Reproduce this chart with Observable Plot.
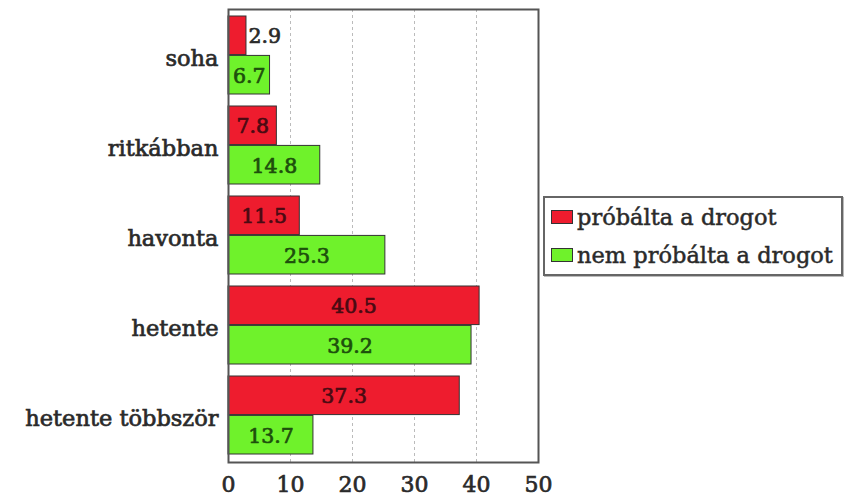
<!DOCTYPE html>
<html>
<head>
<meta charset="utf-8">
<script src="https://cdn.jsdelivr.net/npm/d3@7"></script>
<script src="https://cdn.jsdelivr.net/npm/@observablehq/plot@0.6"></script>
<style>
  html, body { margin: 0; padding: 0; background: #fff; }
  #wrap { position: relative; width: 854px; height: 500px; font-family: "DejaVu Serif", serif; }
  #wrap g[aria-label$="tick label"] { stroke: #2a2a2a; stroke-width: 0.7px; paint-order: stroke; }
  #legend { position: absolute; left: 543px; top: 196px; width: 296px; border: 2px solid #666; box-shadow: 1px 1px 0 #bbb; background: #fff; }
  .row { height: 38px; display: flex; align-items: center; padding-left: 6px; font-size: 22.5px; color: #2a2a2a; -webkit-text-stroke: 0.5px #2a2a2a; white-space: nowrap; }
  .sw { width: 20px; height: 12px; border: 1.5px solid #333; margin-right: 4px; flex: none; }
</style>
</head>
<body>
<div id="wrap"></div>
<script>
const categories = ["soha", "ritkábban", "havonta", "hetente", "hetente többször"];
const series = ["próbálta a drogot", "nem próbálta a drogot"];
const tried = [2.9, 7.8, 11.5, 40.5, 37.3];
const notTried = [6.7, 14.8, 25.3, 39.2, 13.7];
const xTicks = [0, 10, 20, 30, 40, 50];
const gridTicks = [10, 20, 30, 40];
const colors = ["#ee1c2e", "#6ff22b"];
const textColors = ["#4a0a12", "#1d4f0c"];

const data = categories.flatMap((c, i) => [
  {cat: c, series: series[0], value: tried[i]},
  {cat: c, series: series[1], value: notTried[i]}
]);

const W = 854, H = 500, mt = 9, mb = 38, ml = 228, mr = 316;
const pInner = 0.13, pOuter = 0.065;
const step = (H - mt - mb) / categories.length;
const half = step * (1 - pInner) / 2;

const redData = data.filter(d => d.series === series[0]);
const greenData = data.filter(d => d.series === series[1]);
const inside = d => d.value >= 5;
const fmt = d => d.value.toFixed(1);
const lbl = {fontSize: 20.5, strokeWidth: 0.7, paintOrder: "stroke"};

const chart = Plot.plot({
  width: W, height: H,
  marginTop: mt, marginBottom: mb, marginLeft: ml, marginRight: mr,
  style: {fontFamily: "DejaVu Serif, serif", fontSize: "20px", color: "#2a2a2a", background: "#fff"},
  x: {domain: [0, 50], label: null},
  y: {domain: categories, paddingInner: pInner, paddingOuter: pOuter, label: null},
  color: {domain: series, range: colors},
  marks: [
    Plot.ruleX(gridTicks, {stroke: "#bbb", strokeDasharray: "3,3"}),
    Plot.axisX({ticks: xTicks, tickSize: 0, tickPadding: 14, fontSize: 22, label: null}),
    Plot.axisY({tickSize: 0, tickPadding: 10, dy: 3, fontSize: 22.5, label: null}),
    Plot.barX(redData, {x: "value", y: "cat", fill: "series", stroke: "#333", strokeWidth: 1, insetBottom: half}),
    Plot.barX(greenData, {x: "value", y: "cat", fill: "series", stroke: "#333", strokeWidth: 1, insetTop: half}),
    Plot.text(redData.filter(inside), {...lbl, x: d => d.value / 2, y: "cat", text: fmt, dy: -half / 2 + 1, fill: textColors[0], stroke: textColors[0]}),
    Plot.text(redData.filter(d => !inside(d)), {...lbl, x: "value", y: "cat", text: fmt, dy: -half / 2 + 1, dx: 2, textAnchor: "start", fill: "#2a2a2a", stroke: "#2a2a2a"}),
    Plot.text(greenData.filter(inside), {...lbl, x: d => d.value / 2, y: "cat", text: fmt, dy: half / 2 + 1, fill: textColors[1], stroke: textColors[1]}),
    Plot.text(greenData.filter(d => !inside(d)), {...lbl, x: "value", y: "cat", text: fmt, dy: half / 2 + 1, dx: 2, textAnchor: "start", fill: "#2a2a2a", stroke: "#2a2a2a"}),
    Plot.frame({stroke: "#555", strokeWidth: 2})
  ]
});

const wrap = document.getElementById("wrap");
wrap.appendChild(chart);

const legend = document.createElement("div");
legend.id = "legend";
series.forEach((s, i) => {
  const row = document.createElement("div");
  row.className = "row";
  const sw = document.createElement("span");
  sw.className = "sw";
  sw.style.background = colors[i];
  const t = document.createElement("span");
  t.textContent = s;
  row.appendChild(sw);
  row.appendChild(t);
  legend.appendChild(row);
});
wrap.appendChild(legend);
</script>
</body>
</html>
